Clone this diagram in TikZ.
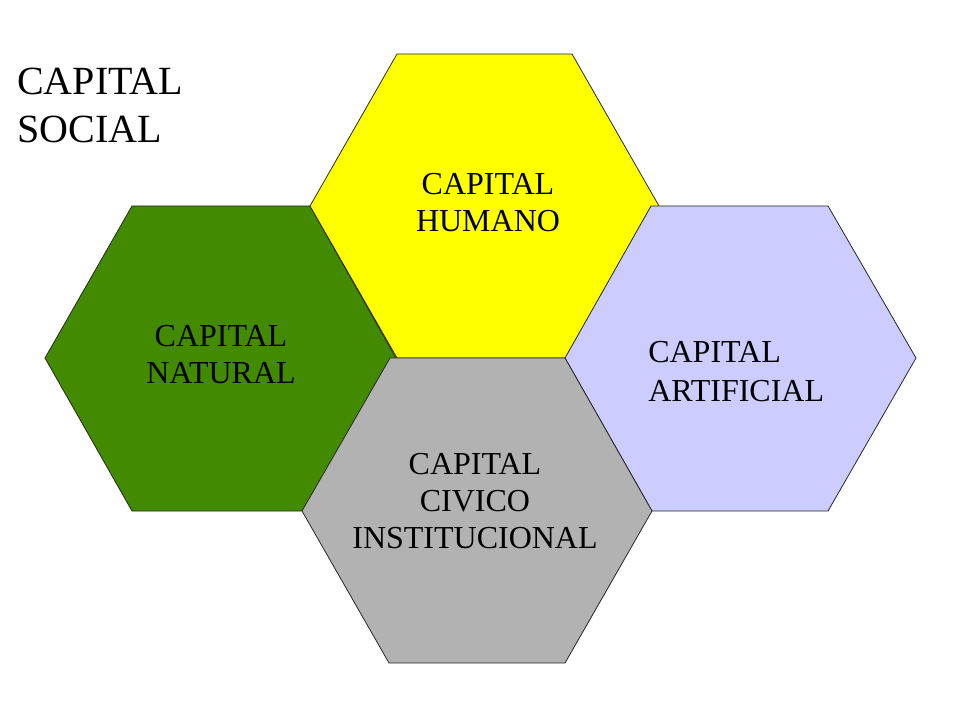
\documentclass[tikz,border=0pt]{standalone}
\usepackage{fontspec}
\setmainfont{Liberation Serif}
\definecolor{hexyellow}{RGB}{255,255,0}
\definecolor{hexgreen}{RGB}{66,138,0}
\definecolor{hexlav}{RGB}{204,204,255}
\definecolor{hexgray}{RGB}{178,178,178}
\definecolor{hexline}{RGB}{40,40,40}
\tikzset{
  hexa/.style={draw=hexline, line width=0.6pt, line join=miter},
  lbl/.style={inner sep=0pt, align=center, font=\fontsize{24}{27.75}\selectfont},
}
\begin{document}
\begin{tikzpicture}[x=0.75pt, y=-0.75pt]
\useasboundingbox (0,0) rectangle (960,720);
% green
\filldraw[hexa, fill=hexgreen] (132,206) -- (310,206) -- (396,358) -- (308,511) -- (132,511) -- (45,358) -- cycle;
% yellow
\filldraw[hexa, fill=hexyellow] (397,54) -- (572,54) -- (659,206) -- (572,358) -- (397,358) -- (310,206) -- cycle;
% lavender
\filldraw[hexa, fill=hexlav] (651,206) -- (828,206) -- (916,358) -- (828,511) -- (652,511) -- (565,358) -- cycle;
% gray
\filldraw[hexa, fill=hexgray] (390,358) -- (565,358) -- (652,511) -- (565,663) -- (389,663) -- (302,511) -- cycle;

\node[lbl] (humano) at (488,202.5) {CAPITAL\\HUMANO};
\node[lbl] (natural) at (221,354.5) {CAPITAL\\NATURAL};
\node[lbl, align=left, anchor=west, font=\fontsize{24}{29.25}\selectfont] (artificial) at (648,371.5) {CAPITAL\\ARTIFICIAL};
\node[lbl] (civico) at (475,501.5) {CAPITAL\\CIVICO\\INSTITUCIONAL};
\node[inner sep=0pt, align=left, anchor=west, font=\fontsize{30}{36}\selectfont] (social) at (17,105) {CAPITAL\\SOCIAL};
\end{tikzpicture}
\end{document}
